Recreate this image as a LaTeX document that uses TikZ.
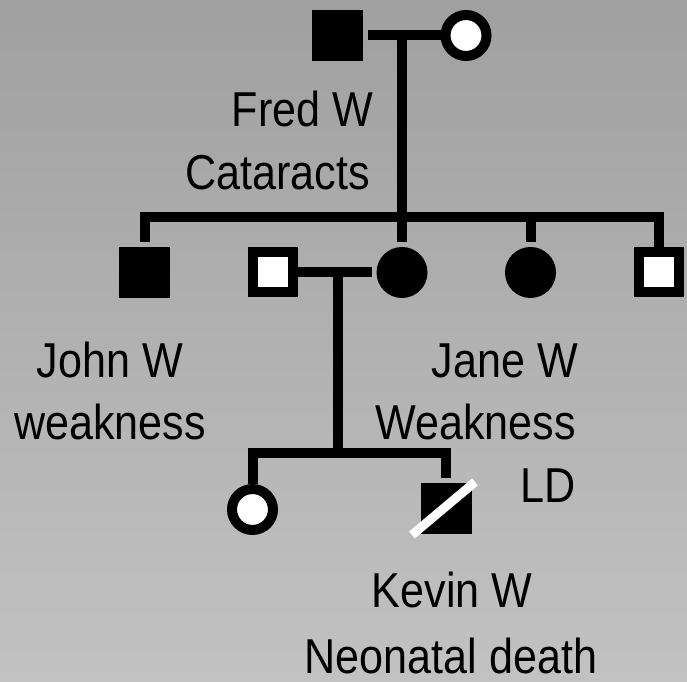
\documentclass[tikz,border=0pt]{standalone}
\usepackage{fontspec}
\setmainfont[FakeStretch=0.88]{Liberation Sans}
\definecolor{bgtop}{HTML}{A0A0A0}
\definecolor{bgbottom}{HTML}{C2C2C2}
\begin{document}
\begin{tikzpicture}[line width=10bp,
	affm/.style={rectangle,fill=black,minimum size=51bp,inner sep=0pt},
	unm/.style={rectangle,draw,fill=white,minimum size=40bp,inner sep=0pt},
	afff/.style={circle,fill=black,minimum size=51bp,inner sep=0pt},
	unf/.style={circle,draw,fill=white,minimum size=41bp,inner sep=0pt},
	lbl/.style={inner sep=0pt,font=\fontsize{49bp}{63bp}\selectfont}]
		%%
  \useasboundingbox (0bp,0bp) rectangle (687bp,682bp);
  \shade [top color=bgtop,bottom color=bgbottom] (0bp,0bp) rectangle (687bp,682bp);
  % generation I
  \node (Fred) at (337.5bp,646.5bp) [affm] {};
  \node (Wife) at (466.0bp,646.5bp) [unf] {};
  \coordinate (FamA) at (402.0bp,646.5bp);
  \coordinate (SibA) at (402.0bp,465.0bp);
  % generation II
  \node (John) at (144.5bp,409.5bp) [affm] {};
  \node (Husband) at (273.0bp,409.5bp) [unm] {};
  \node (Jane) at (402.0bp,409.5bp) [afff] {};
  \node (Sister) at (530.5bp,409.5bp) [afff] {};
  \node (Brother) at (658.5bp,409.5bp) [unm] {};
  \coordinate (FamB) at (337.5bp,409.5bp);
  \coordinate (SibB) at (337.5bp,228.5bp);
  % generation III
  \node (Daughter) at (252.5bp,172.5bp) [unf] {};
  \node (Kevin) at (446.0bp,173.0bp) [affm] {};
  % lines
  \draw (Fred) -- (Wife);
  \draw (FamA) -- (Jane);
  \draw (John) |- (SibA) -| (Brother);
  \draw (Sister) -- (Sister |- SibA);
  \draw (Husband) -- (Jane);
  \draw (FamB) -- (SibB);
  \draw (Daughter) |- (SibB) -| (Kevin);
  \draw [white,line width=9bp] ([shift={(-34bp,-26bp)}]Kevin.center) -- ([shift={(29bp,27bp)}]Kevin.center);
  % labels
  \node (FredName) at (378bp,555bp) [lbl,anchor=base east] {Fred W};
  \node (FredNote) at (375bp,492bp) [lbl,anchor=base east] {Cataracts};
  \node (JohnName) at (110bp,304bp) [lbl,anchor=base] {John W};
  \node (JohnNote) at (110bp,242bp) [lbl,anchor=base] {weakness};
  \node (JaneName) at (583bp,304bp) [lbl,anchor=base east] {Jane W};
  \node (JaneNote) at (581bp,242bp) [lbl,anchor=base east] {Weakness};
  \node (JaneLD) at (581bp,179bp) [lbl,anchor=base east] {LD};
  \node (KevinName) at (452bp,74bp) [lbl,anchor=base] {Kevin W};
  \node (KevinNote) at (451bp,9bp) [lbl,anchor=base] {Neonatal death};
		%
\end{tikzpicture}
\end{document}
